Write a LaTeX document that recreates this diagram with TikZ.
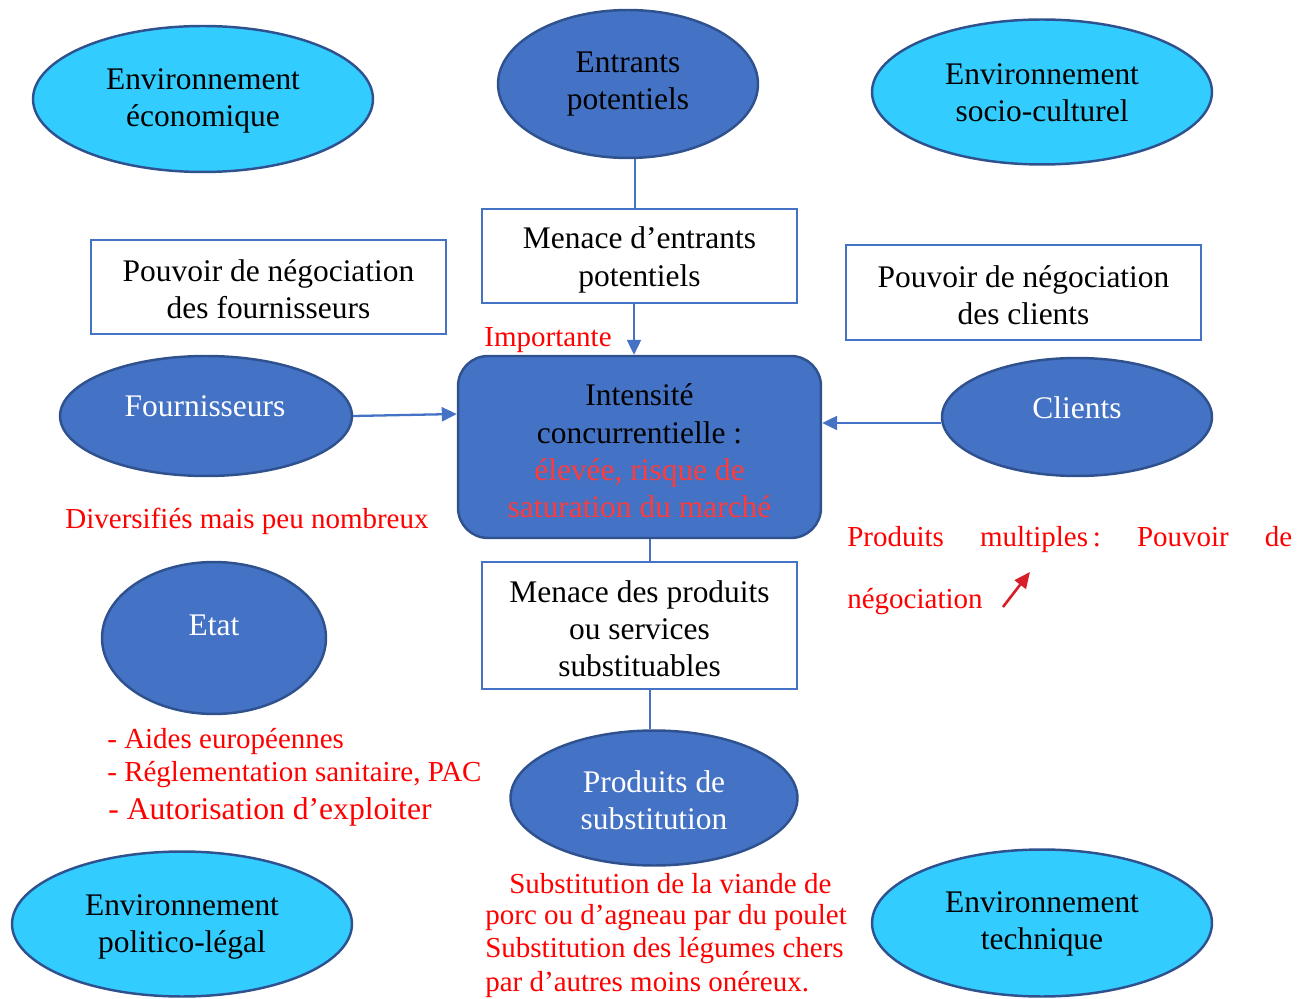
\documentclass[tikz,border=0pt]{standalone}
\usepackage{fontspec}
\setmainfont{Liberation Serif}
\usetikzlibrary{shapes.geometric,arrows.meta}
\definecolor{lblue}{HTML}{33CCFF}
\definecolor{dblue}{HTML}{4472C4}
\definecolor{edgeblue}{HTML}{2F528F}
\definecolor{txtred}{HTML}{FF0000}
\definecolor{boxred}{HTML}{FF3B3B}
\definecolor{iconred}{HTML}{D81E28}
\begin{document}
\begin{tikzpicture}[x=0.02cm,y=-0.02cm,
  bigfont/.style={font=\fontsize{17.9}{21.2}\selectfont, align=center, inner sep=0pt},
  redtxt/.style={font=\fontsize{16.5}{19}\selectfont, text=txtred, inner sep=0pt},
  envell/.style={ellipse, draw=edgeblue, line width=1.4pt, fill=lblue, inner sep=0pt},
  darkell/.style={ellipse, draw=edgeblue, line width=1.4pt, fill=dblue, inner sep=0pt},
  whitetxt/.style={bigfont, text=white},
  blacktxt/.style={bigfont, text=black},
  menbox/.style={draw=dblue, line width=1.1pt, fill=white, inner sep=0pt},
  conn/.style={draw=dblue, line width=1.3pt},
  arr/.style={conn, -{Triangle[length=0.3cm, width=0.28cm]}}
]
\useasboundingbox (0,0) rectangle (1311,999);

% environment ellipses
\node[envell, minimum width=6.8cm, minimum height=2.92cm] (eco) at (203,99) {};
\node[blacktxt] (ecolbl) at (203,101) {Environnement\\économique};
\node[envell, minimum width=6.8cm, minimum height=2.9cm] (soc) at (1042,92) {};
\node[blacktxt] (soclbl) at (1042,93) {Environnement\\socio-culturel};
\node[envell, minimum width=6.8cm, minimum height=2.9cm] (pol) at (182,924) {};
\node[blacktxt] (pollbl) at (182,927) {Environnement\\politico-légal};
\node[envell, minimum width=6.8cm, minimum height=2.94cm] (tech) at (1042,923) {};
\node[blacktxt] (techlbl) at (1042,924) {Environnement\\technique};

% forces
\node[darkell, minimum width=5.2cm, minimum height=2.96cm] (entr) at (628,84) {};
\node[blacktxt] (entrlbl) at (628,84) {Entrants\\potentiels};
\node[darkell, minimum width=5.84cm, minimum height=2.4cm] (fourn) at (206,416) {};
\node[whitetxt] (fournlbl) at (205,406) {Fournisseurs};
\node[darkell, minimum width=5.4cm, minimum height=2.36cm] (cli) at (1077,417) {};
\node[whitetxt] (clilbl) at (1077,408) {Clients};
\node[darkell, minimum width=4.48cm, minimum height=3.04cm] (etat) at (214,638) {};
\node[whitetxt] (etatlbl) at (214,625) {Etat};
\node[darkell, minimum width=5.74cm, minimum height=2.7cm] (subst) at (654,798) {};
\node[whitetxt] (substlbl) at (654,800) {Produits de\\substitution};

% boxes
\node[menbox, minimum width=6.3cm, minimum height=1.88cm] (menent) at (639.5,256) {};
\node[blacktxt] (menentlbl) at (639.5,260) {Menace d’entrants\\potentiels};
\node[menbox, minimum width=7.1cm, minimum height=1.88cm] (pfour) at (268.5,287) {};
\node[blacktxt] (pfourlbl) at (268.5,289) {Pouvoir de négociation\\des fournisseurs};
\node[menbox, minimum width=7.1cm, minimum height=1.9cm] (pcli) at (1023.5,292.5) {};
\node[blacktxt] (pclilbl) at (1023.5,295) {Pouvoir de négociation\\des clients};
\node[menbox, minimum width=6.3cm, minimum height=2.54cm] (menprod) at (639.5,625.5) {};
\node[blacktxt] (menprodlbl) at (639.5,628.5) {Menace des produits\\ou services\\substituables};

% central
\node[draw=edgeblue, line width=1.4pt, fill=dblue, rounded corners=0.6cm,
      minimum width=7.26cm, minimum height=3.64cm, inner sep=0pt] (central) at (639.5,447) {};
\node[blacktxt] (centrallbl) at (639.5,451)
  {Intensité\\concurrentielle :\\{\color{boxred}élevée, risque de}\\{\color{boxred}saturation du marché}};

% connectors
\draw[conn] ([xshift=-0.09cm]menent.north) -- ([xshift=-0.09cm]menent.north |- entr.south);
\draw[arr] ([xshift=-0.11cm]menent.south) -- ([xshift=-0.11cm]menent.south |- central.north);
\draw[conn] ([xshift=0.21cm]menprod.north) -- ([xshift=0.21cm]menprod.north |- central.south);
\draw[conn] ([xshift=0.21cm]menprod.south) -- ([xshift=0.21cm]menprod.south |- subst.north);
\draw[arr] (fourn.east) -- ([yshift=0.04cm]central.west |- fourn.east);
\draw[arr] ([yshift=-0.12cm]cli.west) -- ([yshift=-0.12cm]cli.west -| central.east);

% red annotations
\node[redtxt] (imp) at (548,340) {Importante};
\node[redtxt] (div) at (247,521) {Diversifiés mais peu nombreux};
\node[redtxt, anchor=west] (prodmult) at (847,540) {\makebox[8.9cm][l]{Produits\hfill multiples\,:\hfill Pouvoir\hfill de}};
\node[redtxt, anchor=west] (nego) at (847,602) {négociation};
\draw[draw=iconred, line width=1.5pt, -{Triangle[length=0.32cm, width=0.28cm]}] (nego.east) ++(20,5) coordinate (icA) -- ++(27,-35) coordinate (icB);
\node[redtxt, anchor=west] (l1) at (107,742) {- Aides européennes};
\node[redtxt, anchor=west] (l2) at (107,775) {- Réglementation sanitaire, PAC};
\node[redtxt, anchor=west, font=\fontsize{18}{20}\selectfont] (l3) at (108,812) {- Autorisation d’exploiter};
\node[redtxt, anchor=west] (s1) at (509,884) {Substitution de la viande de};
\node[redtxt, anchor=west] (s2) at (485,918) {porc ou d’agneau par du poulet};
\node[redtxt, anchor=west] (s3) at (485,951) {Substitution des légumes chers};
\node[redtxt, anchor=west] (s4) at (485,985) {par d’autres moins onéreux.};
\end{tikzpicture}
\end{document}
